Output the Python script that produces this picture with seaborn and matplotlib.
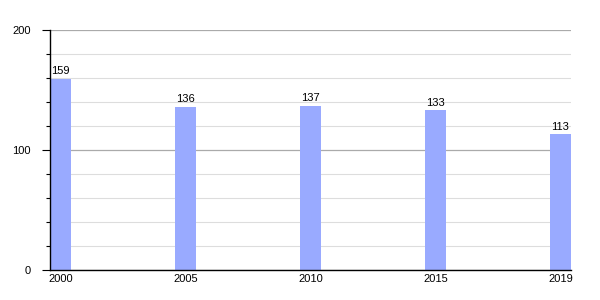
import matplotlib
matplotlib.use("Agg")
import matplotlib.pyplot as plt
import seaborn as sns
import pandas as pd
from matplotlib.ticker import MultipleLocator

years = ["2000", "2005", "2010", "2015", "2019"]
values = [159, 136, 137, 133, 113]

sns.set_style("white")
plt.rcParams['font.family'] = ['Liberation Sans', 'DejaVu Sans']
plt.rcParams['text.color'] = 'black'
plt.rcParams['xtick.color'] = 'black'
plt.rcParams['ytick.color'] = 'black'

fig = plt.figure(figsize=(6, 3), dpi=100)
ax = fig.add_axes([50/600, 30/300, 521/600, 240/300])

df = pd.DataFrame({"year": years, "value": values})
sns.barplot(data=df, x="year", y="value", order=years, color="#99aaff",
            saturation=1, width=0.168, linewidth=0, ax=ax, zorder=2)

for c in ax.containers:
    ax.bar_label(c, labels=[str(v) for v in values], fontsize=8, padding=2, color="black")

ax.set_xlim(-0.084, 4.084)
ax.set_ylim(0, 200)
ax.yaxis.set_major_locator(MultipleLocator(100))
ax.yaxis.set_minor_locator(MultipleLocator(20))
ax.grid(which="major", axis="y", color="#aaaaaa", linewidth=0.9, zorder=0)
ax.grid(which="minor", axis="y", color="#dddddd", linewidth=0.8, zorder=0)
ax.set_axisbelow(True)
ax.tick_params(axis="y", which="major", direction="out", length=6, width=0.8, left=True, labelsize=8, pad=8, colors="black")
ax.tick_params(axis="y", which="minor", direction="out", length=3, width=0.8, left=True, colors="black")
ax.tick_params(axis="x", which="both", length=0, labelsize=8, pad=3, colors="black")
ax.set_xlabel("")
ax.set_ylabel("")
for s in ["top", "right"]:
    ax.spines[s].set_visible(False)
for s in ["left", "bottom"]:
    ax.spines[s].set_color("black")
    ax.spines[s].set_linewidth(1.0)
    ax.spines[s].set_zorder(5)

fig.savefig("out.png", dpi=100)
